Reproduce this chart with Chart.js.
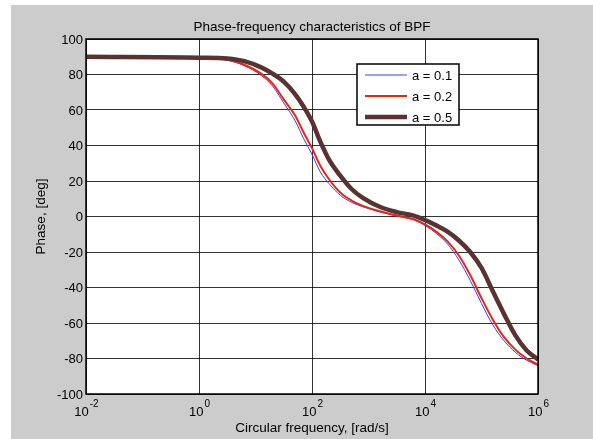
<!DOCTYPE html>
<html lang="en">
<head>
  <meta charset="UTF-8">
  <title>Phase-frequency characteristics of BPF</title>
  <script src="https://cdn.jsdelivr.net/npm/chart.js"></script>
  <style>
    html, body {
      margin: 0;
      padding: 0;
      background: #ffffff;
    }
    #wrap {
      width: 593px;
      height: 439px;
    }
  </style>
</head>
<body>
  <div id="wrap">
    <canvas id="bpf-chart" width="593" height="439"></canvas>
  </div>

  <script>
    // frequencies [rad/s]
    const freq = [0.01, 1, 3.16, 6.31, 12.6, 20, 31.6, 50.1, 70.8, 100, 141, 200, 316, 501, 794,
                  1580, 3160, 6310, 10000, 15800, 25100, 39800, 63100, 100000, 158000, 251000,
                  398000, 631000, 1000000];

    // phase [deg] for each a
    const phaseA01 = [90, 89.5, 88, 85, 79.5, 73.5, 64, 54, 44, 35, 25, 18.5, 12, 8, 5.5,
                      2.6, 0.3, -2, -5, -9.5, -15.5, -24.5, -36, -49, -61, -70, -76.5, -81, -84];
    const phaseA02 = [90, 89.5, 88.5, 85.5, 80.5, 75, 66, 57, 47.5, 38.5, 28.5, 21, 13.5, 9, 6,
                      3, 0.6, -1.5, -4.5, -8.5, -14, -22, -33, -46, -58, -68, -75, -80, -83.5];
    const phaseA05 = [90, 89.5, 89, 87.5, 84, 80.5, 76, 69, 62, 53.5, 42, 32, 23, 15.5, 10.5,
                      5.5, 2.5, 0.5, -2, -5, -8.5, -13.5, -20, -29, -42, -55, -67, -75.5, -80.5];

    const seriesLabels = ['a = 0.1', 'a = 0.2', 'a = 0.5'];
    const seriesColors = ['#3a3aff', '#e8280c', '#5a3232'];
    const seriesWidths = [1, 2, 4.5];

    // axis ticks
    const xTickExp = [-2, 0, 2, 4, 6];
    const yTicks = [100, 80, 60, 40, 20, 0, -20, -40, -60, -80, -100];

    const FONT = 'Arial, "Liberation Sans", sans-serif';

    function toPoints(ys) {
      return freq.map((f, i) => ({ x: f, y: ys[i] }));
    }

    const matlabFrame = {
      id: 'matlabFrame',
      beforeDraw(chart) {
        const { ctx, chartArea: a } = chart;
        ctx.save();
        ctx.fillStyle = '#cccccc';
        ctx.fillRect(11, 5, chart.width - 11, chart.height - 5);
        ctx.fillStyle = '#ffffff';
        ctx.fillRect(a.left, a.top, a.right - a.left, a.bottom - a.top);
        ctx.restore();
      },
      afterDraw(chart) {
        const { ctx, chartArea: a } = chart;
        const xs = chart.scales.x;
        const ys = chart.scales.y;
        ctx.save();

        // axes box
        ctx.strokeStyle = '#000000';
        ctx.lineWidth = 1.5;
        ctx.strokeRect(a.left, a.top, a.right - a.left, a.bottom - a.top);

        ctx.fillStyle = '#000000';

        // y tick labels
        ctx.font = '13px ' + FONT;
        ctx.textAlign = 'right';
        ctx.textBaseline = 'middle';
        yTicks.forEach(v => {
          ctx.fillText(String(v), a.left - 3, ys.getPixelForValue(v) + 1);
        });

        // x tick labels as 10^n
        xTickExp.forEach(e => {
          const px = xs.getPixelForValue(Math.pow(10, e));
          ctx.font = '13px ' + FONT;
          const wBase = ctx.measureText('10').width;
          ctx.font = '10px ' + FONT;
          const wExp = ctx.measureText(String(e)).width;
          const left = px - (wBase + wExp) / 2;
          ctx.textAlign = 'left';
          ctx.textBaseline = 'middle';
          ctx.font = '13px ' + FONT;
          ctx.fillText('10', left, a.bottom + 18);
          ctx.font = '10px ' + FONT;
          ctx.fillText(String(e), left + wBase + 1, a.bottom + 10);
        });

        // titles
        ctx.font = '13.5px ' + FONT;
        ctx.textAlign = 'center';
        ctx.textBaseline = 'middle';
        ctx.fillText('Phase-frequency characteristics of BPF', (a.left + a.right) / 2, 27);
        ctx.fillText('Circular frequency, [rad/s]', (a.left + a.right) / 2, a.bottom + 34);
        ctx.save();
        ctx.translate(41, (a.top + a.bottom) / 2);
        ctx.rotate(-Math.PI / 2);
        ctx.fillText('Phase, [deg]', 0, 0);
        ctx.restore();

        // legend box
        const bx = a.right - 181, by = a.top + 25, bw = 102, bh = 61;
        ctx.fillStyle = '#ffffff';
        ctx.fillRect(bx, by, bw, bh);
        ctx.strokeStyle = '#000000';
        ctx.lineWidth = 1.5;
        ctx.strokeRect(bx, by, bw, bh);
        chart.data.datasets.forEach((ds, i) => {
          const ry = by + 11 + i * 21;
          ctx.beginPath();
          ctx.strokeStyle = ds.borderColor;
          ctx.lineWidth = ds.borderWidth;
          ctx.moveTo(bx + 8, ry);
          ctx.lineTo(bx + 50, ry);
          ctx.stroke();
          ctx.fillStyle = '#000000';
          ctx.font = '13px ' + FONT;
          ctx.textAlign = 'left';
          ctx.textBaseline = 'middle';
          ctx.fillText(ds.label, bx + 55, ry + 1);
        });

        ctx.restore();
      }
    };

    const datasets = [phaseA01, phaseA02, phaseA05].map((ys, i) => ({
      label: seriesLabels[i],
      data: toPoints(ys),
      borderColor: seriesColors[i],
      borderWidth: seriesWidths[i],
      pointRadius: 0,
      fill: false,
      cubicInterpolationMode: 'monotone',
      order: 2 - i
    }));

    new Chart(document.getElementById('bpf-chart'), {
      type: 'line',
      data: { datasets },
      options: {
        responsive: false,
        animation: false,
        layout: { padding: { left: 86, top: 39, right: 55, bottom: 45 } },
        plugins: {
          legend: { display: false },
          title: { display: false },
          tooltip: { enabled: false }
        },
        scales: {
          x: {
            type: 'logarithmic',
            min: 0.01,
            max: 1000000,
            afterBuildTicks: s => {
              s.ticks = xTickExp.map(e => ({ value: Math.pow(10, e) }));
            },
            ticks: { display: false },
            border: { display: false },
            grid: { color: 'rgba(0,0,0,0.8)', lineWidth: 1, drawTicks: false }
          },
          y: {
            type: 'linear',
            min: -100,
            max: 100,
            afterBuildTicks: s => {
              s.ticks = yTicks.map(v => ({ value: v }));
            },
            ticks: { display: false },
            border: { display: false },
            grid: { color: 'rgba(0,0,0,0.8)', lineWidth: 1, drawTicks: false }
          }
        }
      },
      plugins: [matlabFrame]
    });
  </script>
</body>
</html>
